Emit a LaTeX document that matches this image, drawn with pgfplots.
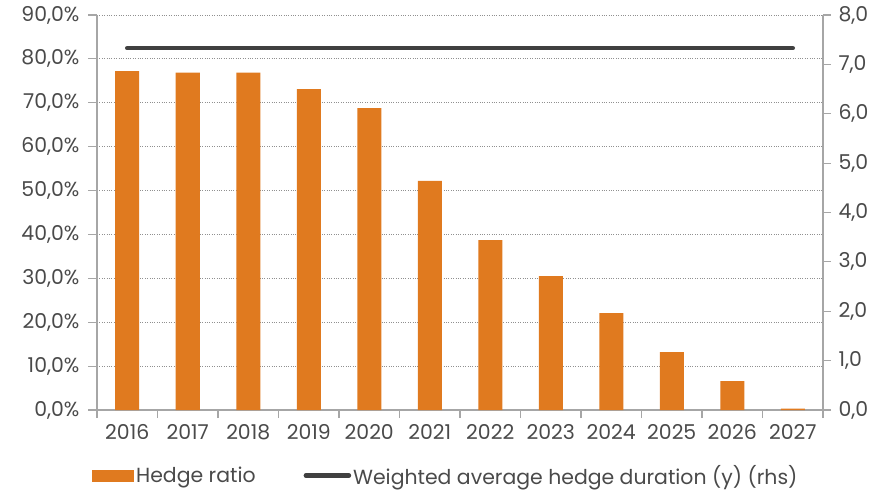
\documentclass[border=0pt]{standalone}
\usepackage{pgfplots}
\pgfplotsset{compat=1.18}
\usepackage{fontspec}
\setmainfont{Poppins}
\definecolor{barorange}{HTML}{E07A1F}
\definecolor{linegray}{HTML}{404040}
\definecolor{axisgray}{HTML}{A6A6A6}
\definecolor{gridgray}{HTML}{909090}
\definecolor{textgray}{HTML}{4A4A4A}
\pgfplotsset{
    barlegend/.style={legend image code/.code={\fill[barorange] (0bp,-6bp) rectangle (42bp,6bp);}},
    linelegend/.style={legend image code/.code={\draw[linegray, line width=4.5bp, line cap=round] (2bp,0bp) -- (45bp,0bp);}},
}
\begin{document}
\begin{tikzpicture}[font=\fontsize{20.5}{24}\selectfont]
\path[use as bounding box] (-97bp,-82bp) rectangle (789bp,410bp);
% left axis: hedge ratio bars
\begin{axis}[
    at={(0,0)}, anchor=south west,
    scale only axis, width=726bp, height=395bp,
    xmin=-0.5, xmax=11.5, ymin=0, ymax=90,
    axis x line*=bottom, axis y line*=left,
    axis line style={axisgray, line width=1.2bp, -},
    xtick={0,...,11},
    xticklabels={2016,2017,2018,2019,2020,2021,2022,2023,2024,2025,2026,2027},
    major x tick style={draw=none},
    minor xtick={-0.5,0.5,...,11.5},
    minor x tick style={axisgray, line width=1.2bp},
    minor tick length=8bp,
    ytick={0,10,...,90},
    y tick style={axisgray, line width=1.2bp},
    major tick length=9bp,
    tick align=outside,
    /pgf/number format/assume math mode=true,
    yticklabel={\pgfmathprintnumber[fixed,fixed zerofill,precision=1,use comma]{\tick}\%},
    yticklabel style={xshift=-5bp},
    xticklabel style={yshift=-2bp},
    every tick label/.append style={text=textgray},
    ymajorgrids,
    grid style={dotted, gridgray, line width=0.9bp},
    legend style={at={(-0.0069,-0.166)}, anchor=west, draw=none, fill=none,
        inner sep=0pt, text=textgray, legend columns=2,
        /tikz/every even column/.append style={column sep=46bp}},
    legend cell align=left,
]
\addplot[ybar, bar width=24bp, fill=barorange, draw=none, barlegend]
    coordinates {
    (0,77.2) (1,76.9) (2,76.9) (3,73.1) (4,68.8) (5,52.2)
    (6,38.7) (7,30.5) (8,22.1) (9,13.2) (10,6.6) (11,0.3)
    };
\addlegendentry{Hedge ratio}
\addlegendimage{linelegend}
\addlegendentry{Weighted average hedge duration (y) (rhs)}
\end{axis}
% right axis: duration line
\begin{axis}[
    at={(0,0)}, anchor=south west,
    scale only axis, width=726bp, height=395bp,
    xmin=-0.5, xmax=11.5, ymin=0, ymax=8,
    axis x line=none, axis y line*=right,
    axis line style={axisgray, line width=1.2bp, -},
    ytick={0,...,8},
    y tick style={axisgray, line width=1.2bp},
    major tick length=8bp,
    tick align=outside,
    /pgf/number format/assume math mode=true,
    yticklabel={\pgfmathprintnumber[fixed,fixed zerofill,precision=1,use comma]{\tick}},
    yticklabel style={xshift=4bp, text=textgray},
]
\addplot[linegray, line width=4.5bp, line cap=round] coordinates {
    (0,7.33) (1,7.33) (2,7.33) (3,7.33) (4,7.33) (5,7.33)
    (6,7.33) (7,7.33) (8,7.33) (9,7.33) (10,7.33) (11,7.33)
    };
\end{axis}
\end{tikzpicture}
\end{document}
